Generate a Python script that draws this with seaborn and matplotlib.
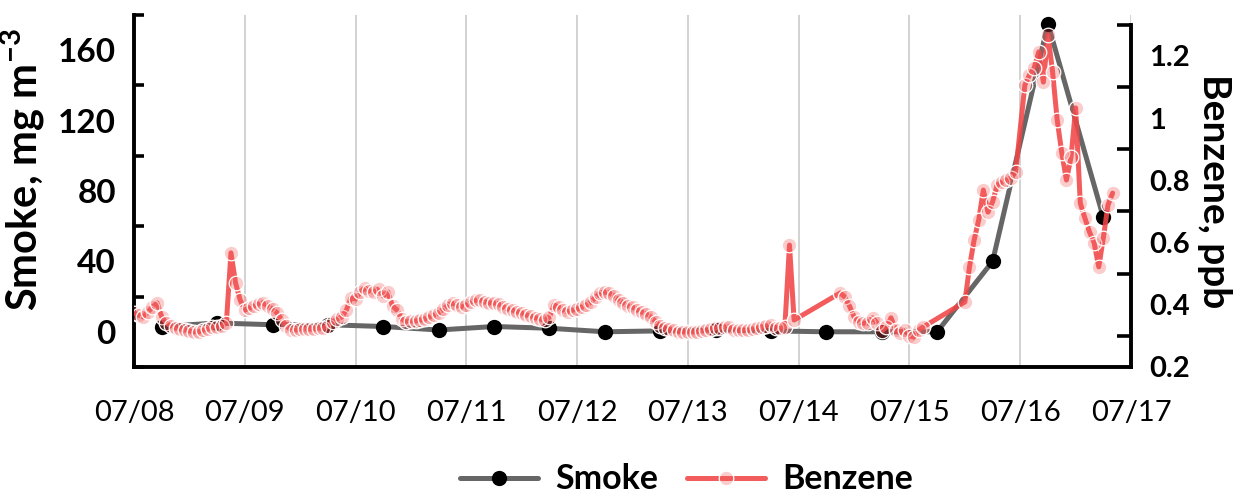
import numpy as np
import pandas as pd
import matplotlib
matplotlib.use("Agg")
import matplotlib.pyplot as plt
import seaborn as sns
from matplotlib.ticker import FixedLocator

# x-axis day labels (one tick per day, midnight)
day_labels = ["07/08", "07/09", "07/10", "07/11", "07/12",
              "07/13", "07/14", "07/15", "07/16", "07/17"]

# Smoke (mg m-3), sampled at 06:00 and 18:00 each day
smoke_hours = [6, 18]
smoke_values = [3, 5,      # 07/08
                4, 4,      # 07/09
                3, 1,      # 07/10
                3, 2,      # 07/11
                0, 0.5,    # 07/12
                1, 0.5,    # 07/13
                0, 0,      # 07/14
                0, 40,     # 07/15
                175, 65]   # 07/16

# Benzene (ppb), hourly; None = no measurement
benz_0708 = [0.374, 0.367, 0.361, 0.377, 0.393, 0.406, 0.361, 0.341, 0.332, 0.325, 0.322, 0.319,
             0.316, 0.313, 0.313, 0.319, 0.322, 0.329, 0.329, 0.332, 0.341, 0.567, 0.470, 0.415]
benz_0709 = [0.383, 0.390, 0.396, 0.403, 0.406, 0.396, 0.386, 0.374, 0.351, 0.332, 0.319, 0.319,
             0.322, 0.322, 0.322, 0.322, 0.325, 0.325, 0.332, 0.345, 0.354, 0.361, 0.383, 0.422]
benz_0710 = [0.419, 0.441, 0.454, 0.444, 0.441, 0.451, 0.428, 0.441, 0.396, 0.383, 0.354, 0.345,
             0.348, 0.348, 0.351, 0.354, 0.361, 0.367, 0.374, 0.386, 0.399, 0.406, 0.399, 0.393]
benz_0711 = [0.399, 0.409, 0.415, 0.415, 0.409, 0.406, 0.406, 0.403, 0.393, 0.386, 0.383, 0.377,
             0.374, 0.367, 0.364, 0.358, 0.354, 0.351, 0.361, 0.399, 0.393, 0.383, 0.377, 0.383]
benz_0712 = [0.386, 0.393, 0.399, 0.409, 0.425, 0.438, 0.441, 0.438, 0.428, 0.415, 0.406, 0.396,
             0.393, 0.383, 0.377, 0.370, 0.361, 0.345, 0.332, 0.325, 0.322, 0.319, 0.313, 0.313]
benz_0713 = [0.313, 0.313, 0.313, 0.316, 0.319, 0.322, 0.325, 0.325, 0.329, 0.329, 0.319, 0.319,
             0.319, 0.319, 0.322, 0.325, 0.329, 0.332, 0.335, 0.325, 0.325, 0.329, 0.592, 0.351]
benz_0714 = [None, None, None, None, None, None, None, None, None, 0.438, 0.425, 0.396,
             0.361, 0.345, 0.341, 0.341, 0.358, 0.341, 0.316, 0.329, 0.358, 0.319, 0.309, 0.319]
benz_0715 = [0.300, 0.296, 0.319, 0.329, None, None, None, None, None, None, None, None,
             0.409, 0.522, 0.608, 0.673, 0.769, 0.698, 0.731, 0.785, 0.795, 0.801, 0.808, 0.827]
benz_0716 = [None, 1.107, 1.139, 1.161, 1.213, 1.116, 1.268, 1.149, 0.994, 0.888, 0.801, 0.875,
             1.033, 0.727, 0.679, 0.634, 0.599, 0.522, 0.615, 0.721, 0.759]

benzene_days = [benz_0708, benz_0709, benz_0710, benz_0711, benz_0712,
                benz_0713, benz_0714, benz_0715, benz_0716]

# ---- tidy frames (time in days since 07/08 00:00) ----
smoke_df = pd.DataFrame({
    "t": [d + h / 24 for d in range(len(smoke_values) // 2) for h in smoke_hours],
    "v": smoke_values,
})
rows = []
for d, vals in enumerate(benzene_days):
    for h, v in enumerate(vals):
        if v is not None:
            rows.append((d + h / 24, v))
benz_df = pd.DataFrame(rows, columns=["t", "v"])

# ---- style ----
sns.set_theme(style="white")
plt.rcParams["font.family"] = ["Lato", "DejaVu Sans"]
plt.rcParams["mathtext.fontset"] = "custom"
plt.rcParams["mathtext.rm"] = "Lato"
plt.rcParams["mathtext.bf"] = "Lato:bold"
for key in ("text.color", "axes.labelcolor", "xtick.color", "ytick.color"):
    plt.rcParams[key] = "black"

fig = plt.figure(figsize=(12.41, 5.01), dpi=100)
ax = fig.add_axes([0.1080, 0.2675, 0.8034, 0.7026])
ax2 = ax.twinx()

smoke_grey = "#666666"
red = (0.945, 0.27, 0.27, 0.88)
pink_face = (0.945, 0.35, 0.35, 0.30)

sns.lineplot(data=smoke_df, x="t", y="v", ax=ax, color=smoke_grey, lw=3.6,
             marker="o", ms=11, mfc="black", mec="black", mew=0,
             label="Smoke", legend=False)
sns.lineplot(data=benz_df, x="t", y="v", ax=ax2, color=red, lw=3.6,
             marker="o", ms=10.5, mfc=pink_face, mec="white", mew=0.9,
             label="Benzene", legend=False)

# ---- x axis ----
ax.set_xlim(0, 9)
ax.xaxis.set_major_locator(FixedLocator(range(len(day_labels))))
ax.set_xticklabels(day_labels, fontsize=21)
ax.grid(axis="x", color="#cfcfcf", lw=1.3)
ax.grid(axis="y", visible=False)
ax.set_xlabel("")
ax.tick_params(axis="x", direction="out", length=12, width=2.6, color="black", pad=12)

# ---- left axis (smoke) ----
ax.set_ylim(-20, 180)
ax.yaxis.set_major_locator(FixedLocator([0, 40, 80, 120, 160]))
ax.yaxis.set_minor_locator(FixedLocator([-20, 20, 60, 100, 140, 180]))
ax.set_yticklabels(["0", "40", "80", "120", "160"], fontsize=24, fontweight="bold")
ax.tick_params(axis="y", which="major", length=0, pad=13)
ax.tick_params(axis="y", which="minor", left=True, direction="in", length=7, width=2.6, color="black")
ax.set_ylabel(r"Smoke, mg m$^{\mathbf{-3}}$", fontsize=30, fontweight="bold")
ax.yaxis.set_label_coords(-0.087, 0.56)

# ---- right axis (benzene) ----
ax2.set_ylim(0.2, 0.2 + 352 / 311)
ax2.yaxis.set_major_locator(FixedLocator([0.2, 0.4, 0.6, 0.8, 1.0, 1.2]))
ax2.yaxis.set_minor_locator(FixedLocator([0.3, 0.5, 0.7, 0.9, 1.1, 1.3]))
ax2.set_yticklabels(["0.2", "0.4", "0.6", "0.8", "1", "1.2"], fontsize=21, fontweight="bold")
ax2.tick_params(axis="y", which="major", length=0, pad=13)
ax2.tick_params(axis="y", which="minor", right=True, direction="in", length=10, width=2.6, color="black")
ax2.set_ylabel("Benzene, ppb", fontsize=28, fontweight="bold", rotation=270, labelpad=30)
ax2.grid(False)

# ---- spines ----
for s in ("top", "right"):
    ax.spines[s].set_visible(False)
for s in ("top", "left", "bottom"):
    ax2.spines[s].set_visible(False)
for sp in (ax.spines["left"], ax.spines["bottom"], ax2.spines["right"]):
    sp.set_color("black")
    sp.set_linewidth(2.8)
ax2.spines["right"].set_bounds(0.2, 1.3)

# ---- legend below the plot ----
handles = ax.get_lines()[:1] + ax2.get_lines()[:1]
fig.legend(handles, ["Smoke", "Benzene"], loc="lower center",
           bbox_to_anchor=(0.553, -0.05), ncol=2, frameon=False,
           prop={"size": 24.5, "weight": "bold"}, handlelength=2.3,
           columnspacing=0.85, handletextpad=0.5)

fig.savefig("out.png", dpi=100)
